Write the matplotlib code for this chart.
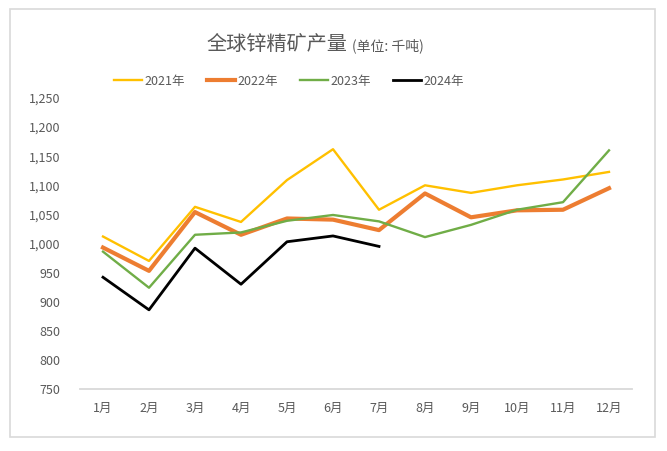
import matplotlib.pyplot as plt
from matplotlib.patches import Rectangle

plt.rcParams['font.family'] = ['Noto Sans CJK SC', 'DejaVu Sans']

# 数据 (千吨)
months = ['1月', '2月', '3月', '4月', '5月', '6月', '7月', '8月', '9月', '10月', '11月', '12月']
y2021 = [1012, 970, 1063, 1037, 1109, 1162, 1058, 1100, 1087, 1100, 1110, 1123]
y2022 = [993, 953, 1054, 1015, 1043, 1041, 1023, 1086, 1045, 1057, 1058, 1095]
y2023 = [986, 924, 1015, 1019, 1039, 1049, 1038, 1011, 1032, 1058, 1071, 1160]
y2024 = [942, 886, 992, 930, 1003, 1013, 995]

grey = '#595959'

fig = plt.figure(figsize=(6.67, 4.51), dpi=100)
ax = fig.add_axes([80 / 667, 62 / 451, 552 / 667, 291 / 451])

x = list(range(len(months)))
ax.plot(x, y2021, color='#FFC000', lw=1.7, label='2021年')
ax.plot(x, y2022, color='#ED7D31', lw=3.0, label='2022年')
ax.plot(x, y2023, color='#70AD47', lw=1.7, label='2023年')
ax.plot(x[:len(y2024)], y2024, color='black', lw=2.0, label='2024年')

ax.set_xlim(-0.5, 11.5)
ax.set_ylim(750, 1250)
ax.set_yticks(range(750, 1251, 50))
ax.set_yticklabels([f'{v:,}' for v in range(750, 1251, 50)])
ax.set_xticks(x)
ax.set_xticklabels(months)
ax.tick_params(axis='both', length=0, colors=grey, labelsize=9)
ax.tick_params(axis='y', pad=14)
ax.tick_params(axis='x', pad=9)
for s in ['top', 'right', 'left']:
    ax.spines[s].set_visible(False)
ax.spines['bottom'].set_color('#D9D9D9')
ax.spines['bottom'].set_linewidth(1.3)

# 标题
fig.text(347 / 667, 1 - 50 / 451, '全球锌精矿产量', ha='right', va='baseline',
         fontsize=14.5, color=grey)
fig.text(352 / 667, 1 - 50 / 451, '(单位: 千吨)', ha='left', va='baseline',
         fontsize=10, color=grey)

fig.legend(loc='center', bbox_to_anchor=(289 / 667, 1 - 81 / 451), ncol=4,
           frameon=False, fontsize=9, labelcolor=grey, handlelength=2.3,
           handletextpad=0.2, columnspacing=1.7)

fig.patches.append(Rectangle((10 / 667, 14 / 451), 645 / 667, 428 / 451,
                             transform=fig.transFigure, fill=False,
                             edgecolor='#D9D9D9', lw=1.2))

fig.savefig('out.png', dpi=100)
